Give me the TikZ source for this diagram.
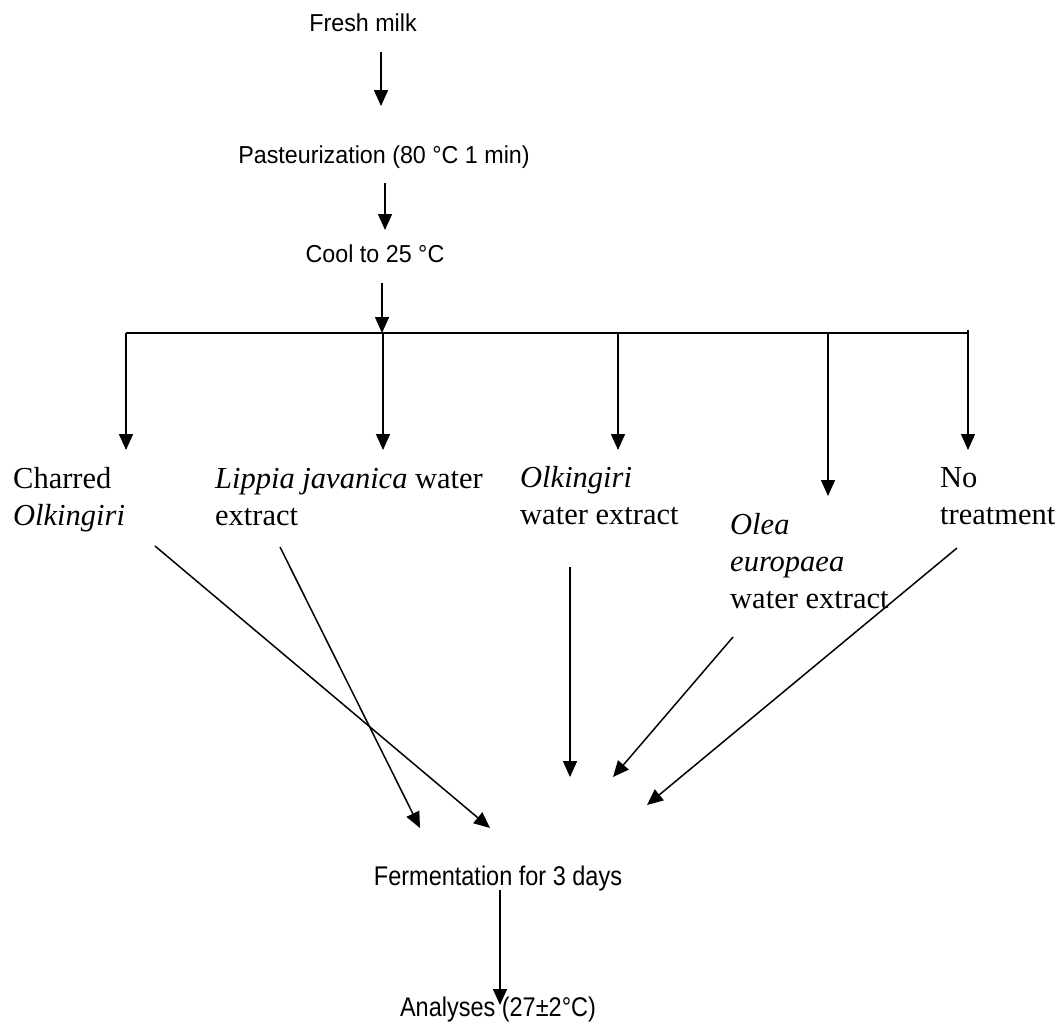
\documentclass[tikz,border=0pt]{standalone}
\usepackage{fontspec}
\setmainfont{Liberation Serif}
\newfontfamily\stepfont[FakeStretch=0.95]{Liberation Sans}
\newfontfamily\lowfont[FakeStretch=0.87]{Liberation Sans}
\usetikzlibrary{arrows.meta, positioning, calc}

\begin{document}
\begin{tikzpicture}[x=1pt, y=-1pt,
  stepbox/.style={inner sep=0pt, anchor=base, font=\stepfont\fontsize{24.5}{29}\selectfont},
  lowbox/.style={inner sep=0pt, anchor=base, font=\lowfont\fontsize{27}{32}\selectfont},
  treat/.style={inner sep=0pt, anchor=base west, align=left, font=\fontsize{30.5}{37}\selectfont},
  flow/.style={line width=1.5pt, -{Triangle[length=16pt, width=14pt]}}]
  \useasboundingbox (0,0) rectangle (1064,1023);

  % Preparation
  \node[stepbox] (milk) at (363,31) {Fresh milk};
  \node[stepbox] (past) at (384,163) {Pasteurization (80 °C 1 min)};
  \node[stepbox] (cool) at (375,262) {Cool to 25 °C};

  \coordinate (m1) at (381,52);  \coordinate (m2) at (381,106);
  \coordinate (p1) at (385,183); \coordinate (p2) at (385,230);
  \coordinate (c1) at (382,283); \coordinate (c2) at (382,333);
  \draw[flow] (m1) -- (m2);
  \draw[flow] (p1) -- (p2);
  \draw[flow] (c1) -- (c2);

  % Split into the five treatments
  \draw[line width=1.5pt] (126,333) coordinate (barL) -- (968,333) coordinate (barR);
  \draw[line width=1.5pt] (barR) -- ++(0,-3);
  \foreach \x/\y [count=\i] in {126/450, 383/450, 618/450, 828/496, 968/450} {
    \coordinate (b\i) at (\x,333);
    \coordinate (t\i) at (\x,\y);
    \draw[flow] (b\i) -- (t\i);
  }

  % (base anchor sits on the last line)
  \node[treat] (charred) at (13,525) {Charred\\\textit{Olkingiri}};
  \node[treat] (lippia) at (215,525) {\textit{Lippia javanica} water\\extract};
  \node[treat] (olk) at (520,524) {\textit{Olkingiri}\\water extract};
  \node[treat] (olea) at (730,608) {\textit{Olea}\\\textit{europaea}\\water extract};
  \node[treat] (none) at (940,524) {No\\treatment};

  % Towards fermentation
  \coordinate (s1) at (155,546); \coordinate (e1) at (490,828);
  \coordinate (s2) at (280,547); \coordinate (e2) at (420,828);
  \coordinate (s3) at (570,567); \coordinate (e3) at (570,777);
  \coordinate (s4) at (733,637); \coordinate (e4) at (613,777);
  \coordinate (s5) at (957,548); \coordinate (e5) at (647,805);
  \foreach \i in {1,...,5} \draw[flow] (s\i) -- (e\i);

  \node[lowbox] (ferm) at (498,885) {Fermentation for 3 days};
  \node[lowbox] (anal) at (498,1016) {Analyses (27±2°C)};
  \coordinate (f1) at (500,890); \coordinate (f2) at (500,1005);
  \draw[flow] (f1) -- (f2);
\end{tikzpicture}
\end{document}
